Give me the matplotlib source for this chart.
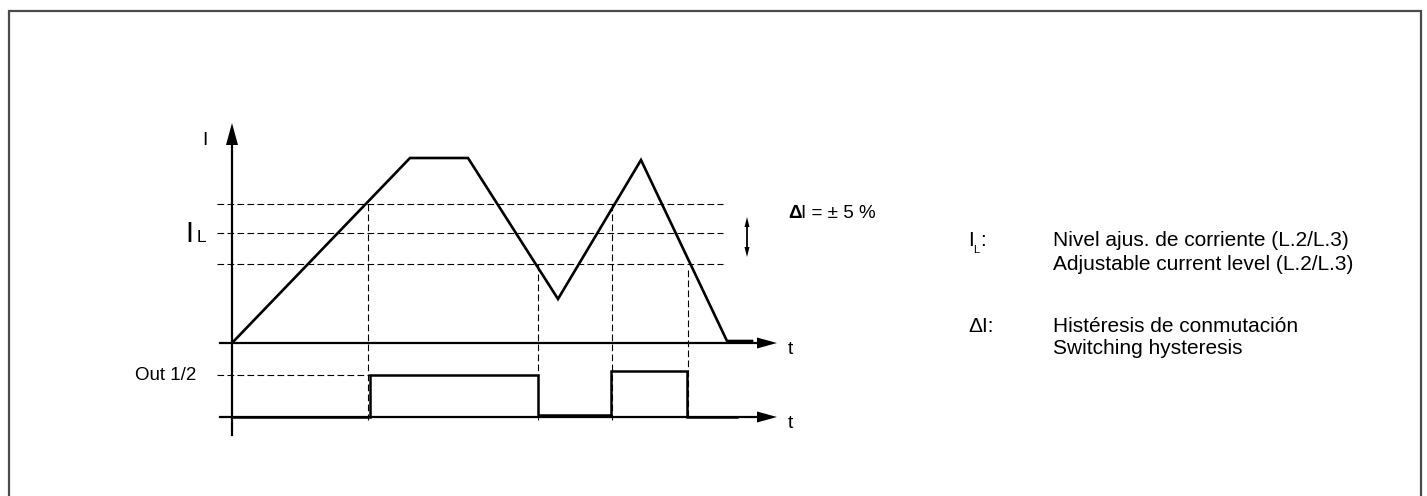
import matplotlib
matplotlib.use("Agg")
import matplotlib.pyplot as plt

plt.rcParams['font.family'] = ['Liberation Sans', 'DejaVu Sans']

W, H = 1427, 496
# Diagram values (in drawing units)
curve_t = [232, 410, 468, 558, 641, 727, 752]
curve_I = [343, 158, 158, 299, 160, 341, 341]
thresholds = [204, 233, 264]          # upper, I_L, lower
switch_t = [368, 538, 612, 688]
switch_from = [204, 264, 204, 270]
out_t = [232, 370, 370, 538, 538, 611, 611, 687, 687, 737]
out_v = [417, 417, 375, 375, 415, 415, 371, 371, 417, 417]
out_level = 375
t_axis_I = 343
t_axis_out = 417

fig = plt.figure(figsize=(W / 100, H / 100), dpi=100)
ax = fig.add_axes([0, 0, 1, 1])
ax.set_xlim(0, W)
ax.set_ylim(H, 0)
ax.axis('off')


def head(tip, direction, length, width):
    """Filled triangular arrow head; direction is (dx, dy) unit vector."""
    tx, ty = tip
    dx, dy = direction
    bx, by = tx - dx * length, ty - dy * length
    px, py = -dy * width / 2, dx * width / 2
    ax.fill([tx, bx + px, bx - px], [ty, by + py, by - py], color='black', lw=0)


# outer frame
ax.plot([9, 9, 1421, 1421], [H + 5, 11, 11, H + 5], color='#4a4a4a', lw=1.6,
        solid_joinstyle='miter')

dash = dict(color='black', lw=0.8, linestyle=(0, (6, 3)))
for y in thresholds:
    ax.plot([217, 723], [y, y], **dash)
ax.plot([217, 370], [out_level, out_level], **dash)
for x, y0 in zip(switch_t, switch_from):
    ax.plot([x, x], [y0, 420], **dash)

# axes
ax.plot([232, 232], [435, 140], color='black', lw=1.6)
head((232, 123), (0, -1), 22, 12)
for y in (t_axis_I, t_axis_out):
    ax.plot([220, 760], [y, y], color='black', lw=1.6)
    head((777, y), (1, 0), 20, 11)
    ax.text(788, y + 7, 't', fontsize=14, ha='left', va='center')

# current curve
ax.plot(curve_t, curve_I, color='black', lw=1.9, solid_joinstyle='miter')
# output signal
ax.plot(out_t, out_v, color='black', lw=1.8, solid_joinstyle='miter')

# labels on left
ax.text(204.5, 145, 'I', fontsize=14, ha='center', va='baseline')
ax.text(189.5, 242, 'I', fontsize=21, ha='center', va='baseline')
ax.text(196.5, 242, 'L', fontsize=12.5, ha='left', va='baseline')
ax.text(135, 375, 'Out 1/2', fontsize=13.5, ha='left', va='center')

# hysteresis arrow
ax.plot([747, 747], [224, 250], color='black', lw=1.3)
head((747, 217), (0, -1), 10, 5)
head((747, 257), (0, 1), 10, 5)
ax.text(788, 214, 'Δ', fontsize=13.5, fontweight='bold', ha='left', va='center')
ax.text(801, 214, 'I = ± 5 %', fontsize=13.5, ha='left', va='center')

# legend text
fs = 15
rows = [241, 264, 326, 348]
lx = 968
ax.text(lx, rows[0], 'I', fontsize=fs, ha='left', va='center')
ax.text(lx + 5, rows[0] + 9, 'L', fontsize=8, ha='left', va='center')
ax.text(lx + 12, rows[0], ':', fontsize=fs, ha='left', va='center')
ax.text(1053, rows[0], 'Nivel ajus. de corriente (L.2/L.3)', fontsize=fs, ha='left', va='center')
ax.text(1053, rows[1], 'Adjustable current level (L.2/L.3)', fontsize=fs, ha='left', va='center')
ax.text(lx, rows[2], 'ΔI:', fontsize=fs, ha='left', va='center')
ax.text(1053, rows[2], 'Histéresis de conmutación', fontsize=fs, ha='left', va='center')
ax.text(1053, rows[3], 'Switching hysteresis', fontsize=fs, ha='left', va='center')

fig.savefig('out.png', dpi=100)
